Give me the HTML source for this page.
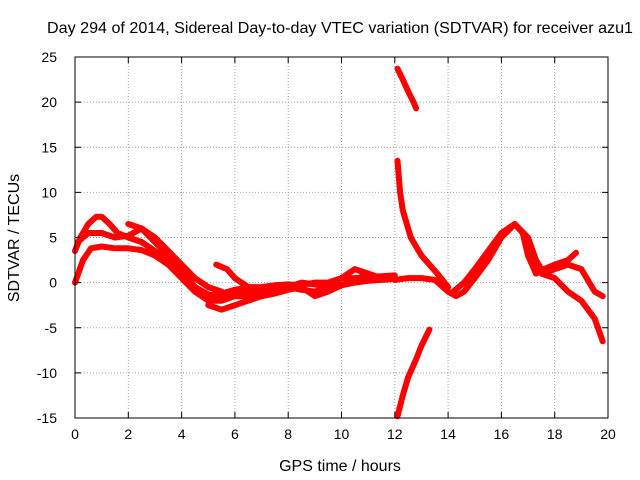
<!DOCTYPE html>
<html><head><meta charset="utf-8"><style>
body{margin:0;background:#fff;}
svg{display:block;font-family:"Liberation Sans",sans-serif;}
</style></head><body>
<svg id="chart" width="640" height="480">
<rect width="640" height="480" fill="#fff"/>
<text x="340" y="33" text-anchor="middle" font-size="16" textLength="586" lengthAdjust="spacingAndGlyphs">Day 294 of 2014, Sidereal Day-to-day VTEC variation (SDTVAR) for receiver azu1</text>
<text x="340" y="471" text-anchor="middle" font-size="16">GPS time / hours</text>
<text transform="translate(19,238) rotate(-90)" text-anchor="middle" font-size="16">SDTVAR / TECUs</text>
<g id="grid"></g><g id="series"></g><g id="axes"></g>
</svg>
<script>
const xTicks=[0,2,4,6,8,10,12,14,16,18,20];
const yTicks=[-15,-10,-5,0,5,10,15,20,25];
const s1T=[0,0.2,0.5,0.8,1.0,1.3,1.6,2.0,2.5,3.0,3.5,4.0,4.5,5.0,5.5,6.0,6.5,7,7.5,8,8.5,9,9.5,10,10.5,11,11.5,12];
const s1V=[3.5,5,6.5,7.3,7.3,6.5,5.5,5,4.5,3.5,2.5,1,-1,-1.5,-1.2,-0.8,-0.5,-0.5,-0.3,-0.2,-0.3,0,0,0.5,0.5,0.6,0.7,0.8];
const s2T=[0,0.3,0.6,1,1.5,2,2.5,3,3.5,4,4.5,5,5.5,6,6.5,7,7.5,8,8.5,9,9.5,10,10.5,11,11.5,12];
const s2V=[0,2.5,3.8,4,3.8,3.8,3.6,3,2,0.5,-1,-2,-2,-1.5,-1.5,-1,-0.8,-0.5,0,-0.2,-0.5,-0.3,0,0.2,0.3,0.4];
const s3T=[0.1,0.5,1,1.5,2,2.5,3,3.5,4,4.5,5,5.5];
const s3V=[4.5,5.5,5.5,5,5.2,6,5,3.5,2,0.5,-0.5,-1];
const s4T=[2,2.5,3,3.5,4,4.5,5,5.5,6,6.5,7,7.5,8,8.5,9,9.5,10,10.5,11,11.5];
const s4V=[6.5,6,4.5,3,1.5,-0.5,-1.3,-1.6,-1.3,-1,-0.8,-0.6,-0.5,-0.8,-1,-0.5,0.5,1.5,1,0.5];
const s5T=[5,5.5,6,6.5,7,7.5,8,8.5,9,9.5,10,10.5,11];
const s5V=[-2.5,-3,-2.5,-2,-1.5,-1.2,-0.8,-0.5,-1.5,-1,-0.3,0.3,1];
const s6T=[5.3,5.7,6,6.5,7,7.5];
const s6V=[2,1.5,0.5,-0.5,-1,-1.2];
const s7T=[12,12.5,13,13.5,14,14.3,14.6,15,15.5,16,16.5,17,17.3,17.6,18,18.5,19,19.5,19.8];
const s7V=[0.3,0.5,0.5,0.3,-1,-1.5,-1,0.5,2.5,5,6.5,5,2.5,1,1.5,2,1.5,-1,-1.5];
const s8T=[14.2,14.6,15,15.5,16,16.5,16.8,17,17.3,17.6,18,18.5,18.8];
const s8V=[-1,0,1.5,3.5,5.5,6.5,5.5,3,1,1.5,2,2.5,3.3];
const s9T=[17,17.5,18,18.5,19,19.5,19.8];
const s9V=[4,1,0.5,-1,-2,-4,-6.5];
const s10T=[12.1,12.3,12.5,12.7,12.8];
const s10V=[23.7,22.5,21.2,20,19.3];
const s11T=[12.1,12.2,12.3,12.45,12.6,12.8,13,13.3,13.6,14];
const s11V=[13.5,10,8,6.5,5,4,3,2,1,-0.5];
const s12T=[12.1,12.3,12.5,12.8,13,13.3];
const s12V=[-14.8,-12.5,-10.5,-8.5,-7,-5.2];
const seriesT=[s1T,s2T,s3T,s4T,s5T,s6T,s7T,s8T,s9T,s10T,s11T,s12T];
const seriesV=[s1V,s2V,s3V,s4V,s5V,s6V,s7V,s8V,s9V,s10V,s11V,s12V];
const X0=75,X1=608,Y0=418,Y1=57;
const xs=t=>X0+(t-0)/(20-0)*(X1-X0);
const ys=v=>Y0-(v+15)/(40)*(Y0-Y1);
const NS='http://www.w3.org/2000/svg';
function mk(tag,attrs,parent){const e=document.createElementNS(NS,tag);for(const k in attrs)e.setAttribute(k,attrs[k]);parent.appendChild(e);return e;}
const grid=document.getElementById('grid'),axes=document.getElementById('axes'),ser=document.getElementById('series');
xTicks.forEach(t=>{const x=xs(t);
 if(t>0&&t<20){const g=mk('line',{x1:x,x2:x,y1:Y1,y2:Y0,stroke:'#a0a0a0','stroke-dasharray':'1,2'},grid);
 
 }
 mk('line',{x1:x,x2:x,y1:Y0,y2:Y0-6,stroke:'#000'},axes);
 mk('line',{x1:x,x2:x,y1:Y1,y2:Y1+6,stroke:'#000'},axes);
 const l=mk('text',{x:x,y:Y0+21,'text-anchor':'middle','font-size':'14'},axes);l.textContent=t;
 
 
});
yTicks.forEach(v=>{const y=ys(v);
 if(v>-15&&v<25){const g=mk('line',{x1:X0,x2:X1,y1:y,y2:y,stroke:'#a0a0a0','stroke-dasharray':'1,2'},grid);
 
 }
 mk('line',{x1:X0,x2:X0+6,y1:y,y2:y,stroke:'#000'},axes);
 mk('line',{x1:X1,x2:X1-6,y1:y,y2:y,stroke:'#000'},axes);
 const l=mk('text',{x:X0-18,y:y+5,'text-anchor':'end','font-size':'14'},axes);l.textContent=v;
 
 
});
const fr=mk('rect',{x:X0,y:Y1,width:X1-X0,height:Y0-Y1,fill:'none',stroke:'#000'},axes);


seriesT.forEach((T,i)=>{const V=seriesV[i];
 const pts=T.map((t,j)=>xs(t).toFixed(1)+','+ys(V[j]).toFixed(1)).join(' ');
 const p=mk('polyline',{points:pts,fill:'none',stroke:'#f00','stroke-width':'6','stroke-linejoin':'round','stroke-linecap':'round'},ser);
 
 
});
</script>
</body></html>
